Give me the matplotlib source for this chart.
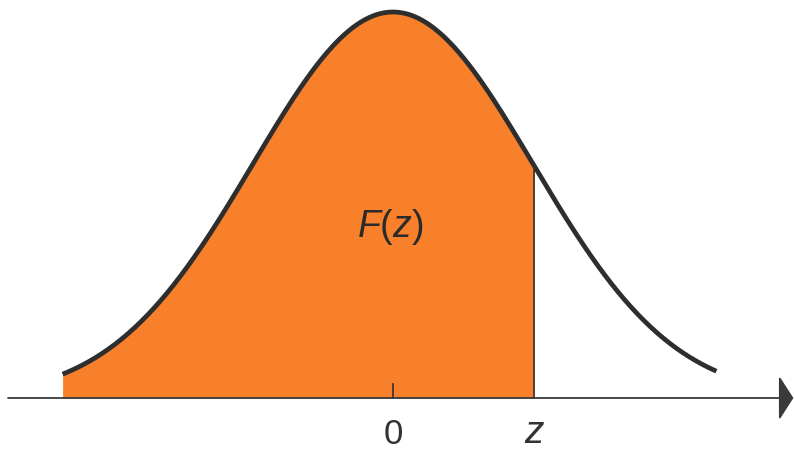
import numpy as np
import matplotlib.pyplot as plt

plt.rcParams['mathtext.fontset'] = 'custom'
plt.rcParams['mathtext.it'] = 'Liberation Sans:italic'
plt.rcParams['mathtext.rm'] = 'Liberation Sans'

# standard normal curve, drawn between these limits (in sigma units)
curve_start = -2.36
curve_end = 2.31
z_value = 1.01
tick_labels = ['0', 'z']

orange = '#f8802a'


def density(x):
    # peak scaled to 1
    return np.exp(-x ** 2 / 2)


x = np.linspace(curve_start, curve_end, 400)
y = density(x)

fig = plt.figure(figsize=(7.94, 4.52), dpi=100)
ax = fig.add_axes([0, 0, 1, 1])

# fill F(z)
xf = np.linspace(curve_start, z_value, 300)
ax.fill_between(xf, 0, density(xf), color=orange, lw=0)

# the curve itself
ax.plot(x, y, color='#2e2e2e', lw=3.4, solid_capstyle='butt')

# vertical line at z
ax.plot([z_value, z_value], [0, density(z_value)], color='#333333', lw=1.2)

# horizontal axis with arrow
ax.annotate('', xy=(2.86, 0), xytext=(-2.75, 0),
            arrowprops=dict(arrowstyle='-|>,head_length=0.45,head_width=0.7',
                            mutation_scale=20, color='#3a3a3a', lw=1.3,
                            shrinkA=0, shrinkB=0))

# tick at 0
ax.plot([0, 0], [0, 0.035], color='#333333', lw=1.2)

ax.text(0, -0.093, tick_labels[0], ha='center', va='center', fontsize=25,
        family='Liberation Sans', color='#333333')
ax.text(z_value, -0.134, tick_labels[1], ha='center', va='bottom',
        fontsize=28, style='italic', family='Liberation Sans', color='#333333')
ax.text(-0.02, 0.445, '$F(z)$', ha='center', va='center', fontsize=27,
        color='#2a2a2a')

ax.set_xlim(-393 / 140, (794 - 393) / 140)
ax.set_ylim(-(452 - 399) / 386, 399 / 386)
ax.axis('off')

plt.savefig('out.png', dpi=100)
